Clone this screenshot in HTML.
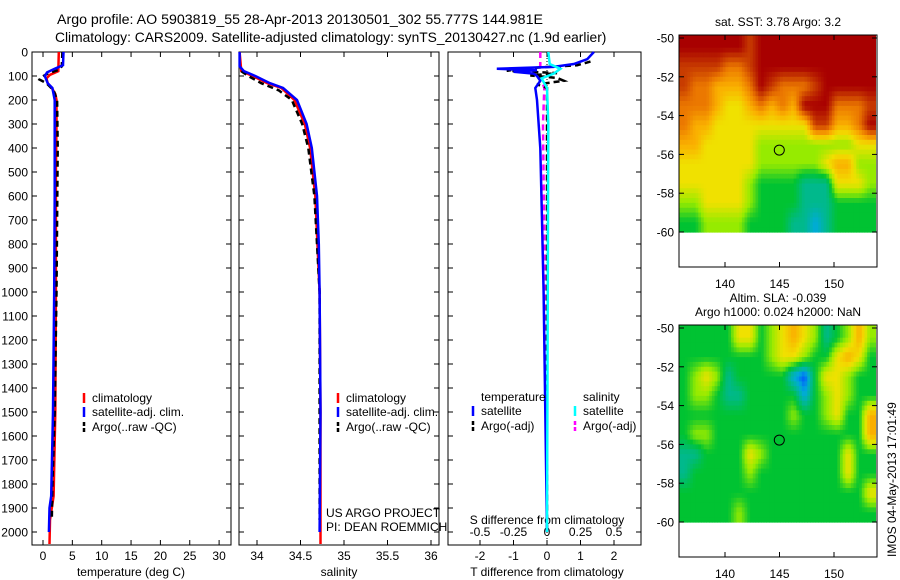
<!DOCTYPE html>
<html><head><meta charset="utf-8"><style>
html,body{margin:0;padding:0;background:#fff;}
svg{display:block;font-family:"Liberation Sans",sans-serif;}
text{font-size:12px;fill:#000;}
</style></head><body>
<svg id="chart" width="900" height="580" viewBox="0 0 900 580" xmlns="http://www.w3.org/2000/svg">
<text x="57" y="24" style="font-size:14.2px">Argo profile: AO 5903819_55 28-Apr-2013 20130501_302 55.777S 144.981E</text>
<text x="55" y="42" style="font-size:13.8px">Climatology: CARS2009. Satellite-adjusted climatology: synTS_20130427.nc (1.9d earlier)</text>
<g id="g"></g>
</svg>
<script>
// ---- data ----
const depthTicks = [0,100,200,300,400,500,600,700,800,900,1000,1100,1200,1300,1400,1500,1600,1700,1800,1900,2000];
const tempTicks = [0,5,10,15,20,25,30];
const salTicks = [34,34.5,35,35.5,36];
const salTickLabels = ["34","34.5","35","35.5","36"];
const tdiffTicks = [-2,-1,0,1,2];
const sdiffTicks = [-0.5,-0.25,0,0.25,0.5];
const sdiffLabels = ["-0.5","-0.25","0","0.25","0.5"];

const tClimDepth = [0,80,95,110,130,150,175,200,300,500,1000,1500,1850,1950,2050];
const tClim = [2.7,2.6,1.2,0.6,0.8,1.5,2.1,2.3,2.3,2.2,2.2,2.1,1.8,1.2,1.1];
const tArgoDepth = [0,60,75,90,105,115,130,160,200,400,1000,1500,1800,1950];
const tArgo = [3.3,3.2,2.6,0.8,-0.3,-0.6,0.6,1.8,2.4,2.5,2.3,2.0,1.6,1.5];
const tSatDepth = [0,55,70,85,100,130,150,200,300,600,1000,1500,1850,1900,2000];
const tSat = [3.5,3.4,2.0,0.7,0.3,0.8,1.6,2.0,2.0,2.0,1.9,1.7,1.4,1.1,1.0];

const sClimDepth = [0,80,100,130,150,200,300,400,600,1000,1500,2050];
const sClim = [33.8,33.82,33.95,34.12,34.28,34.43,34.55,34.61,34.67,34.72,34.73,34.73];
const sArgoDepth = [80,100,130,160,200,300,400,600,1000,1950];
const sArgo = [33.82,33.9,34.05,34.25,34.4,34.52,34.59,34.66,34.72,34.72];
const sSatDepth = [0,60,80,100,130,150,200,300,400,600,800,1000,1500,2000];
const sSat = [33.8,33.8,33.85,33.98,34.15,34.3,34.46,34.57,34.63,34.69,34.71,34.72,34.73,34.72];

const dTSatDepth = [0,30,50,62,70,76,82,90,100,120,150,200,400,700,1000,2000];
const dTSat = [1.4,1.2,0.8,0.2,-1.5,-0.3,-1.0,-0.4,-0.3,-0.2,-0.35,-0.3,-0.2,-0.15,-0.1,0];
const dTArgoDepth = [40,55,68,78,88,98,108,120,135,150,200,400,1000,2000];
const dTArgo = [1.3,0.9,-0.6,-1.2,0.3,-0.5,0.3,0.5,-0.3,0,0,0,0,0];
const dSSatDepth = [0,50,70,90,110,150,300,2000];
const dSSat = [0.01,0.02,0.1,0.05,-0.04,0.0,0.01,0.0];
const dSArgoDepth = [0,60,80,100,150,300,800,1500,2000];
const dSArgo = [-0.05,-0.05,-0.1,-0.05,-0.02,-0.03,-0.02,0,0];

const mapLonTicks = [140,145,150];
const mapLatTicks = [-50,-52,-54,-56,-58,-60];
const gridLon0 = 136, gridLat0 = -50;
const sstGrid = [
[10,10,10,10,10,10,9,10,10,10,10,10,10,10,10,10,10,10],
[9,9,9,9,8,8,9,10,10,10,10,10,10,10,10,10,10,10],
[9,8,8,7,7,7,8,10,9,8,8,8,9,10,10,10,10,10],
[8,8,8,7,6,6,7,8,7,8,7,10,10,10,8,8,8,9],
[8,7,7,6,6,6,6,6,6,6,6,6,9,9,7,7,8,10],
[7,7,6,6,6,6,6,5,5,5,5,5,5,5,5,5,6,6],
[6,6,6,6,6,6,6,5,5,5,5,5,5,6,7,7,5,5],
[6,6,6,6,6,6,5,4,4,4,4,3,3,3,6,6,6,5],
[5,5,6,6,6,6,5,4,4,4,4,3,3,3,4,4,4,4],
[4,4,5,5,5,5,4,4,4,4,3,3,2,3,4,4,4,4]];
const slaGrid = [
[4,4,4,4,4,6,6,4,5,6,7,6,5,3,4,5,7,5],
[4,4,4,4,4,4,4,4,5,6,6,5,4,4,6,7,6,4],
[4,5,6,5,3,4,4,4,4,4,2,1,4,6,6,5,4,4],
[4,5,5,4,3,3,4,4,4,4,4,2,4,5,6,5,4,4],
[4,4,4,4,4,4,4,4,4,4,5,4,4,5,6,4,4,7],
[4,5,5,4,4,4,4,4,4,4,4,4,4,4,4,4,4,7],
[3,3,4,4,4,4,6,5,4,4,4,4,4,4,4,6,4,4],
[3,4,4,4,4,4,5,4,4,4,4,4,4,4,4,6,4,4],
[4,4,4,4,4,4,4,4,4,4,4,4,4,4,4,4,4,6],
[4,4,4,4,4,5,4,4,4,4,4,4,4,4,4,4,4,4]];
const floatLon = 144.981, floatLat = -55.777;

// ---- drawing ----
const NS="http://www.w3.org/2000/svg";
const G=document.getElementById('g');
function mk(tag,attrs,parent){const e=document.createElementNS(NS,tag);for(const k in attrs)e.setAttribute(k,attrs[k]);(parent||G).appendChild(e);return e;}
function txt(x,y,s,anchor,size){const t=mk('text',{x:x,y:y,'text-anchor':anchor||'start'});if(size)t.style.fontSize=size+'px';t.textContent=s;return t;}
const TOP=52, BOT=545;
const yD=d=>TOP+d*0.24;
const xT=v=>43+v*5.87;
const xS=v=>257+(v-34)*87;
const xDT=v=>547+v*33.5;
const xDS=v=>547+v*134;

function frame(x0,x1,name){const r=mk('rect',{x:x0,y:TOP,width:x1-x0,height:BOT-TOP,fill:'none',stroke:'#000','stroke-width':1});

}
function line(xs,ds,xf,color,dash,w,name){
 const p=xs.map((v,i)=>xf(v).toFixed(1)+','+yD(ds[i]).toFixed(1)).join(' ');
 const e=mk('polyline',{points:p,fill:'none',stroke:color,'stroke-width':w||2.5});
 if(dash)e.setAttribute('stroke-dasharray',dash);
 
 }
function xticks(x0,x1,ticks,labels,xf,ly){
 ticks.forEach((t,i)=>{const x=xf(t);mk('line',{x1:x,x2:x,y1:BOT,y2:BOT-5,stroke:'#000'});mk('line',{x1:x,x2:x,y1:TOP,y2:TOP+5,stroke:'#000'});
 const l=txt(x,ly,labels[i],'middle');
 
 });}
function yticks(x0,x1,lab){depthTicks.forEach(d=>{const y=yD(d);mk('line',{x1:x0,x2:x0+5,y1:y,y2:y,stroke:'#000'});mk('line',{x1:x1,x2:x1-5,y1:y,y2:y,stroke:'#000'});
 if(lab){const l=txt(28,y+4.5,String(d),'end');
 
 }});}

// panel 1: temperature
frame(32,231,'temperature-panel');
yticks(32,231,true);
xticks(32,231,tempTicks,tempTicks.map(String),xT,560);
txt(131,576,'temperature (deg C)','middle');
line(tClim,tClimDepth,xT,'#f00',null,2.5,'temperature-climatology-line');
line(tArgo,tArgoDepth,xT,'#000','6,4',2.5,'temperature-argo-line');
line(tSat,tSatDepth,xT,'#00f',null,2.5,'temperature-satellite-line');
// panel 2: salinity
frame(239,439,'salinity-panel');
yticks(239,439,false);
xticks(239,439,salTicks,salTickLabels,xS,560);
txt(339,576,'salinity','middle');
line(sClim,sClimDepth,xS,'#f00',null,2.5,'salinity-climatology-line');
line(sArgo,sArgoDepth,xS,'#000','6,4',2.5,'salinity-argo-line');
line(sSat,sSatDepth,xS,'#00f',null,2.5,'salinity-satellite-line');
txt(326,517,'US ARGO PROJECT');
txt(326,531,'PI: DEAN ROEMMICH');
// panel 3: differences
frame(448,641,'difference-panel');
yticks(448,641,false);
xticks(448,641,tdiffTicks,tdiffTicks.map(String),xDT,560);
txt(547,576,'T difference from climatology','middle');
sdiffTicks.forEach((t,i)=>{const x=xDS(t);mk('line',{x1:x,x2:x,y1:BOT,y2:BOT-5,stroke:'#000'});
 const l=txt(x,536,sdiffLabels[i],'middle');
 
 });
txt(547,524,'S difference from climatology','middle');
mk('line',{x1:547,x2:547,y1:TOP,y2:BOT,stroke:'#000','stroke-dasharray':'1,2'});
line(dSArgo,dSArgoDepth,xDS,'#f0f','6,4',2.5,'salinity-diff-argo-line');
line(dTArgo,dTArgoDepth,xDT,'#000','6,4',2.5,'temperature-diff-argo-line');
line(dTSat,dTSatDepth,xDT,'#00f',null,2.5,'temperature-diff-satellite-line');
line(dSSat,dSSatDepth,xDS,'#0ff',null,2.5,'salinity-diff-satellite-line');

// legends
function leg(x,y,color,dash,label,name){const e=mk('line',{x1:x,x2:x,y1:y-9,y2:y+1,stroke:color,'stroke-width':2.5});if(dash)e.setAttribute('stroke-dasharray',dash);
 const t=txt(x+8,y,label);
 
 }
[[84,'temp'],[338,'sal']].forEach(([x,n])=>{
 leg(x,402,'#f00',null,'climatology',n+'-legend-climatology');
 leg(x,416,'#00f',null,'satellite-adj. clim.',n+'-legend-satellite');
 leg(x,431,'#000','4,2','Argo(..raw -QC)',n+'-legend-argo');});
txt(481,401,'temperature');txt(583,401,'salinity');
leg(473,415,'#00f',null,'satellite','diff-legend-t-satellite');
leg(473,430,'#000','4,2','Argo(-adj)','diff-legend-t-argo');
leg(575,415,'#0ff',null,'satellite','diff-legend-s-satellite');
leg(575,430,'#f0f','4,2','Argo(-adj)','diff-legend-s-argo');

// maps
const cmap=[[0,0,200],[0,80,255],[0,170,220],[0,185,140],[0,195,50],[150,235,0],[240,225,0],[250,175,0],[235,120,0],[200,60,0],[168,0,0]];
function col(v){v=Math.max(0,Math.min(10,v));const i=Math.min(9,Math.floor(v)),f=v-i;const a=cmap[i],b=cmap[i+1];
 return 'rgb('+[0,1,2].map(k=>Math.round(a[k]+(b[k]-a[k])*f)).join(',')+')';}
function sample(grid,gx,gy){const R=grid.length,C=grid[0].length;
 gx=Math.max(0,Math.min(C-1,gx-0.5));gy=Math.max(0,Math.min(R-1,gy-0.5));
 const c0=Math.floor(gx),r0=Math.floor(gy),c1=Math.min(C-1,c0+1),r1=Math.min(R-1,r0+1),fx=gx-c0,fy=gy-r0;
 return grid[r0][c0]*(1-fx)*(1-fy)+grid[r0][c1]*fx*(1-fy)+grid[r1][c0]*(1-fx)*fy+grid[r1][c1]*fx*fy;}
const MX0=679,MX1=877;
const mxf=lon=>725+(lon-140)*10.9;
function map(top,grid,name,title1,title2){
 const my=lat=>top+3+(-50-lat)*19.4;
 const step=0.25,C=grid[0].length,R=grid.length;
 for(let gy=0;gy<R;gy+=step){for(let gx=0;gx<C;gx+=step){
  const v=sample(grid,gx+step/2,gy+step/2);
  const x0=Math.max(MX0,mxf(gridLon0-0.2+gx)),x1=Math.min(MX1,mxf(gridLon0-0.2+gx+step));
  const y0=gy==0?top:my(gridLat0-gy),y1=Math.min(my(-60.15),my(gridLat0-gy-step));
  if(x1<=x0||y1<=y0)continue;
  const cell=mk('rect',{x:x0.toFixed(1),y:y0.toFixed(1),width:(x1-x0+0.6).toFixed(1),height:(y1-y0+0.6).toFixed(1),fill:col(v)});
  
  }}
 const fr=mk('rect',{x:MX0,y:top,width:MX1-MX0,height:232,fill:'none',stroke:'#000'});
 
 
 mapLatTicks.forEach(l=>{const y=my(l);mk('line',{x1:MX0,x2:MX0+5,y1:y,y2:y,stroke:'#000'});mk('line',{x1:MX1,x2:MX1-5,y1:y,y2:y,stroke:'#000'});txt(674,y+4.5,String(l),'end');});
 mapLonTicks.forEach(l=>{const x=mxf(l);mk('line',{x1:x,x2:x,y1:top,y2:top+5,stroke:'#000'});mk('line',{x1:x,x2:x,y1:top+232,y2:top+227,stroke:'#000'});txt(x,top+253,String(l),'middle');});
 const c=mk('circle',{cx:mxf(floatLon),cy:my(floatLat),r:5,fill:'none',stroke:'#000','stroke-width':1});
 
 
 txt(778,top-9+(title2?-14:0),title1,'middle');
 if(title2)txt(778,top-9,title2,'middle');
}
map(35,sstGrid,'sst-map','sat. SST: 3.78 Argo: 3.2');
map(325,slaGrid,'sla-map','Altim. SLA: -0.039','Argo h1000: 0.024 h2000: NaN');
const st=txt(0,0,'IMOS 04-May-2013 17:01:49','start',12);
st.setAttribute('transform','translate(896,557) rotate(-90)');


</script>
</body></html>
